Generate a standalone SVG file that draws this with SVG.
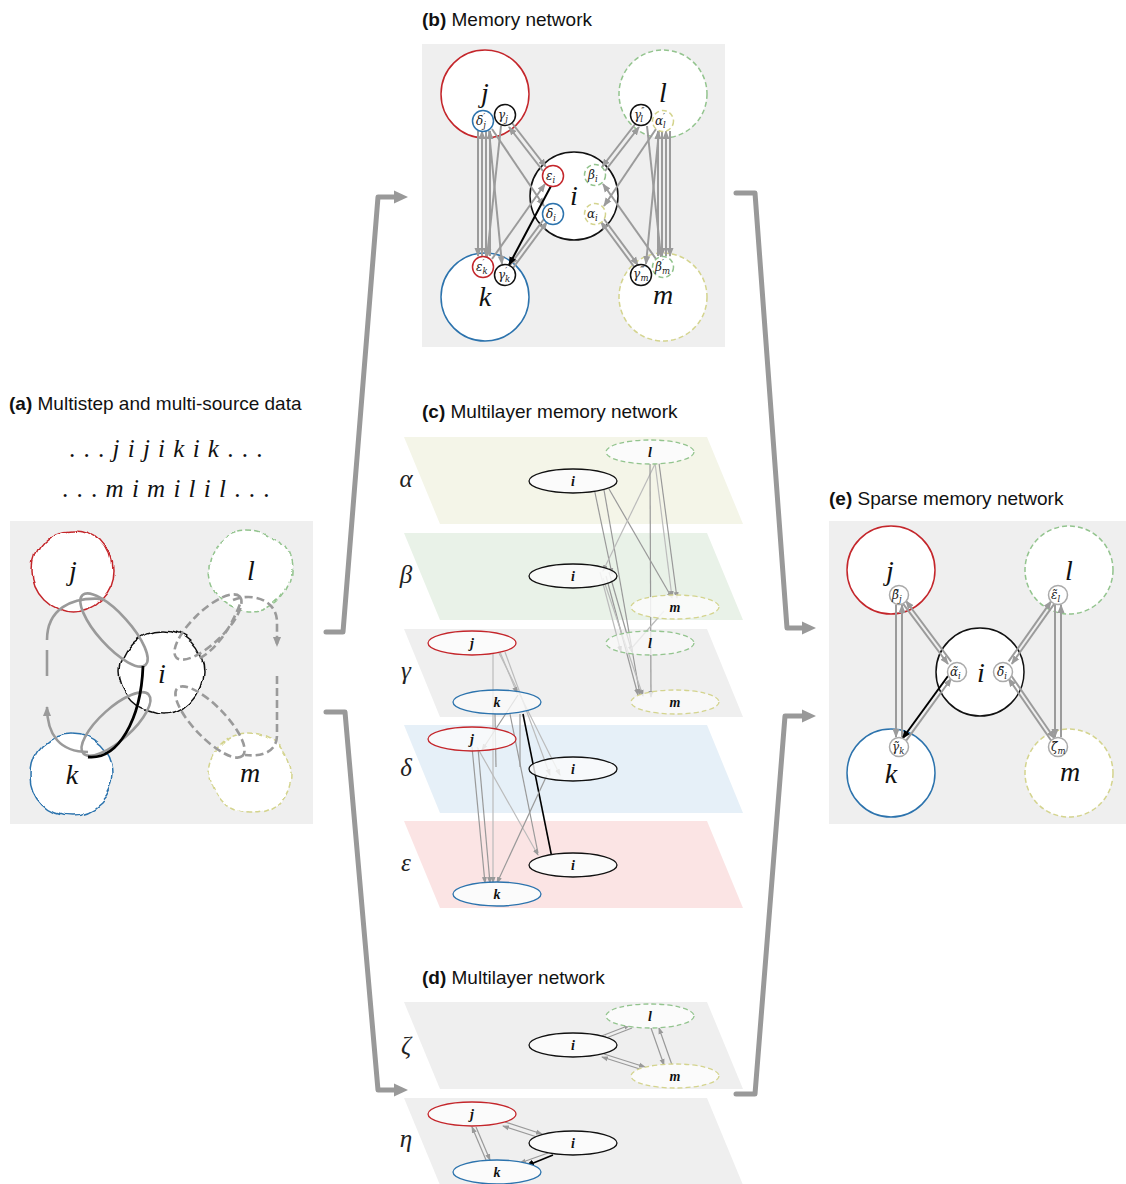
<svg xmlns="http://www.w3.org/2000/svg" width="1126" height="1184" viewBox="0 0 1126 1184">
<style>
.title{font-family:"Liberation Sans",Arial,sans-serif;font-size:19px;fill:#111}
.title .b{font-weight:bold}
.mi{font-family:"Liberation Serif","DejaVu Serif",serif;font-style:italic;fill:#111}
.big{font-size:28px}
.seq{font-family:"Liberation Serif",serif;font-size:25px;fill:#111;letter-spacing:0.5px;word-spacing:1px}
.lay{font-family:"Liberation Serif","DejaVu Serif",serif;font-style:italic;font-size:25px;fill:#222}
.el{font-family:"Liberation Serif",serif;font-style:italic;font-weight:bold;font-size:14px;fill:#111}
.sm{font-family:"DejaVu Serif","Liberation Serif",serif;font-style:italic;font-size:12px;fill:#222}
.sub{font-size:8.5px}
.box{fill:#efefef}
.red{stroke:#c4262b}
.blue{stroke:#2c73ad}
.grn{stroke:#93c48e;stroke-dasharray:5 3}
.yel{stroke:#d4d48e;stroke-dasharray:5 3}
.blk{stroke:#111}
.node{fill:#fff;stroke-width:1.5}
.snode{fill:#fff;stroke-width:1.5}
.enode{fill:#fbfbfb;stroke-width:1.3}
.ge{stroke:#9b9b9b;stroke-width:2;fill:none}
.ke{stroke:#000;stroke-width:2;fill:none}
.te{stroke:#999;stroke-width:1.2;fill:none}
.tl{stroke:#bbb;stroke-width:1.2;fill:none}
.bigarr{stroke:#999;stroke-width:5;fill:none;stroke-linejoin:round;stroke-linecap:round}
.loop{stroke:#9a9a9a;stroke-width:2.6;fill:none}
.dloop{stroke:#9a9a9a;stroke-width:2.6;fill:none;stroke-dasharray:8 4}
</style>
<defs>
<filter id="wob" x="-25%" y="-25%" width="150%" height="150%">
<feTurbulence type="fractalNoise" baseFrequency="0.035" numOctaves="1" seed="4" result="n"/>
<feDisplacementMap in="SourceGraphic" in2="n" scale="13" xChannelSelector="R" yChannelSelector="G"/>
</filter>
<marker id="ag" markerUnits="userSpaceOnUse" markerWidth="9" markerHeight="8" refX="8" refY="4" orient="auto"><path d="M0,0.5 L9,4 L0,7.5 z" fill="#9b9b9b"/></marker>
<marker id="ak" markerUnits="userSpaceOnUse" markerWidth="9" markerHeight="8" refX="8" refY="4" orient="auto"><path d="M0,0.5 L9,4 L0,7.5 z" fill="#000"/></marker>
<marker id="at" markerUnits="userSpaceOnUse" markerWidth="7" markerHeight="6" refX="6" refY="3" orient="auto"><path d="M0,0.5 L7,3 L0,5.5 z" fill="#999"/></marker>
<marker id="ab" markerUnits="userSpaceOnUse" markerWidth="16" markerHeight="16" refX="4" refY="8" orient="auto"><path d="M0,1.5 L14,8 L0,14.5 z" fill="#999"/></marker>
<marker id="ad" markerUnits="userSpaceOnUse" markerWidth="12" markerHeight="10" refX="9" refY="5" orient="auto"><path d="M0,1 L10,5 L0,9 z" fill="#9a9a9a"/></marker>
</defs>
<rect width="1126" height="1184" fill="#fff"/>

<!-- titles -->
<text class="title" x="9" y="410"><tspan class="b">(a)</tspan> Multistep and multi-source data</text>
<text class="title" x="422" y="26"><tspan class="b">(b)</tspan> Memory network</text>
<text class="title" x="422" y="418"><tspan class="b">(c)</tspan> Multilayer memory network</text>
<text class="title" x="422" y="984"><tspan class="b">(d)</tspan> Multilayer network</text>
<text class="title" x="829" y="505"><tspan class="b">(e)</tspan> Sparse memory network</text>

<!-- sequences -->
<text class="seq" x="166" y="457" text-anchor="middle">. . . <tspan font-style="italic">j i j i k i k</tspan> . . .</text>
<text class="seq" x="166" y="497" text-anchor="middle">. . . <tspan font-style="italic">m i m i l i l</tspan> . . .</text>

<!-- panel a -->
<g id="panel-a">
<rect class="box" x="10" y="521" width="303" height="303"/>
<g id="a-j"><circle class="node red" cx="73" cy="571" r="41" filter="url(#wob)"/><text class="mi big" x="73" y="580" text-anchor="middle">j</text></g>
<g id="a-l"><circle class="node grn" cx="250" cy="570" r="41" filter="url(#wob)"/><text class="mi big" x="251" y="580" text-anchor="middle">l</text></g>
<g id="a-i"><circle class="node blk" cx="162" cy="672" r="41" filter="url(#wob)"/><text class="mi big" x="162" y="683" text-anchor="middle">i</text></g>
<g id="a-k"><circle class="node blue" cx="72" cy="774" r="41" filter="url(#wob)"/><text class="mi big" x="72" y="784" text-anchor="middle">k</text></g>
<g id="a-m"><circle class="node yel" cx="251" cy="774" r="41" filter="url(#wob)"/><text class="mi big" x="250" y="782" text-anchor="middle">m</text></g>
<g id="a-loops">
<ellipse class="loop" cx="114" cy="630" rx="47" ry="16" transform="rotate(48 114 630)"/>
<ellipse class="loop" cx="116" cy="724" rx="44" ry="16" transform="rotate(-42 116 724)"/>
<path class="loop" d="M104,599 C70,596 47,610 47,640"/>
<path class="loop" d="M47,650 L47,676"/>
<path class="loop" d="M88,752 C60,752 47,735 47,707" marker-end="url(#ad)"/>
<path d="M143,666 C141,720 118,760 88,757" stroke="#000" stroke-width="2.8" fill="none"/>
<ellipse class="dloop" cx="208" cy="627" rx="44" ry="16" transform="rotate(-44 208 627)"/>
<ellipse class="dloop" cx="210" cy="722" rx="47" ry="16" transform="rotate(46 210 722)"/>
<path class="dloop" d="M233,600 C252,592 277,600 277,622 L277,646" marker-end="url(#ad)"/>
<path class="dloop" d="M277,676 L277,735 C277,752 262,757 245,755"/>
<path class="dloop" d="M200,658 C215,650 230,630 240,604"/>
</g>
</g>

<!-- panel b -->
<g id="panel-b">
<rect class="box" x="422" y="44" width="303" height="303"/>
<g id="b-j"><circle class="node red" cx="485" cy="94" r="44"/><text class="mi big" x="485" y="102" text-anchor="middle">j</text></g>
<g id="b-l"><circle class="node grn" cx="663" cy="94" r="44"/><text class="mi big" x="663" y="102" text-anchor="middle">l</text></g>
<g id="b-i"><circle class="node blk" cx="574" cy="196" r="44"/><text class="mi big" x="574" y="205" text-anchor="middle">i</text></g>
<g id="b-k"><circle class="node blue" cx="485" cy="297" r="44"/><text class="mi big" x="485" y="306" text-anchor="middle">k</text></g>
<g id="b-m"><circle class="node yel" cx="663" cy="297" r="44"/><text class="mi big" x="663" y="304" text-anchor="middle">m</text></g>
<g id="b-edges">
<line class="ge" x1="478" y1="131" x2="478" y2="256" marker-end="url(#ag)"/>
<line class="ge" x1="482" y1="256" x2="482" y2="131" marker-end="url(#ag)"/>
<line class="ge" x1="486" y1="131" x2="486" y2="256" marker-end="url(#ag)"/>
<line class="ge" x1="490" y1="256" x2="490" y2="131" marker-end="url(#ag)"/>
<line class="ge" x1="501" y1="126" x2="487" y2="257" marker-end="url(#ag)"/>
<line class="ge" x1="489" y1="131" x2="502" y2="264" marker-end="url(#ag)"/>
<line class="ge" x1="512" y1="123" x2="546" y2="167" marker-end="url(#ag)"/>
<line class="ge" x1="543" y1="171" x2="509" y2="127" marker-end="url(#ag)"/>
<line class="ge" x1="492" y1="129" x2="544" y2="206" marker-end="url(#ag)"/>
<line class="ge" x1="513" y1="268" x2="547" y2="222" marker-end="url(#ag)"/>
<line class="ge" x1="544" y1="219" x2="510" y2="265" marker-end="url(#ag)"/>
<line class="ge" x1="492" y1="259" x2="545" y2="184" marker-end="url(#ag)"/>
<g transform="matrix(-1 0 0 1 1148 0)">
<line class="ge" x1="478" y1="131" x2="478" y2="256" marker-end="url(#ag)"/>
<line class="ge" x1="482" y1="256" x2="482" y2="131" marker-end="url(#ag)"/>
<line class="ge" x1="486" y1="131" x2="486" y2="256" marker-end="url(#ag)"/>
<line class="ge" x1="490" y1="256" x2="490" y2="131" marker-end="url(#ag)"/>
<line class="ge" x1="501" y1="126" x2="487" y2="257" marker-end="url(#ag)"/>
<line class="ge" x1="489" y1="131" x2="502" y2="264" marker-end="url(#ag)"/>
<line class="ge" x1="512" y1="123" x2="546" y2="167" marker-end="url(#ag)"/>
<line class="ge" x1="543" y1="171" x2="509" y2="127" marker-end="url(#ag)"/>
<line class="ge" x1="492" y1="129" x2="544" y2="206" marker-end="url(#ag)"/>
<line class="ge" x1="513" y1="268" x2="547" y2="222" marker-end="url(#ag)"/>
<line class="ge" x1="544" y1="219" x2="510" y2="265" marker-end="url(#ag)"/>
<line class="ge" x1="492" y1="259" x2="545" y2="184" marker-end="url(#ag)"/>
</g>
<line class="ke" x1="551" y1="186" x2="509" y2="265" marker-end="url(#ak)"/>
</g>
<g id="b-sub">
<g><circle class="snode blue" cx="483" cy="121" r="10.5"/><text class="sm" x="476" y="125">δ<tspan class="sub" dy="-5">′</tspan><tspan class="sub" dx="-2" dy="8">j</tspan></text></g>
<g><circle class="snode blk" cx="505" cy="115" r="10.5"/><text class="sm" x="498" y="119">γ<tspan class="sub" dy="3">j</tspan></text></g>
<g><circle class="snode red" cx="553" cy="176" r="10.5"/><text class="sm" x="546" y="180">ε<tspan class="sub" dy="3">i</tspan></text></g>
<g><circle class="snode blue" cx="553" cy="214" r="10.5"/><text class="sm" x="546" y="218">δ<tspan class="sub" dy="3">i</tspan></text></g>
<g><circle class="snode grn" cx="595" cy="175" r="10.5"/><text class="sm" x="588" y="179">β<tspan class="sub" dy="3">i</tspan></text></g>
<g><circle class="snode yel" cx="595" cy="214" r="10.5"/><text class="sm" x="587" y="218">α<tspan class="sub" dy="3">i</tspan></text></g>
<g><circle class="snode blk" cx="641" cy="115" r="10.5"/><text class="sm" x="634" y="119">γ<tspan class="sub" dy="-5">″</tspan><tspan class="sub" dx="-4" dy="8">l</tspan></text></g>
<g><circle class="snode yel" cx="663" cy="121" r="10.5"/><text class="sm" x="655" y="125">α<tspan class="sub" dy="-5">′</tspan><tspan class="sub" dx="-2" dy="8">l</tspan></text></g>
<g><circle class="snode red" cx="483" cy="267" r="10.5"/><text class="sm" x="476" y="271">ε<tspan class="sub" dy="-5">′</tspan><tspan class="sub" dx="-2" dy="8">k</tspan></text></g>
<g><circle class="snode blk" cx="505" cy="275" r="10.5"/><text class="sm" x="498" y="279">γ<tspan class="sub" dy="-5">′</tspan><tspan class="sub" dx="-2" dy="8">k</tspan></text></g>
<g><circle class="snode blk" cx="641" cy="275" r="10.5"/><text class="sm" x="633" y="278">γ<tspan class="sub" dy="-5">‴</tspan><tspan class="sub" dx="-4" dy="8">m</tspan></text></g>
<g><circle class="snode grn" cx="663" cy="267" r="10.5"/><text class="sm" x="655" y="271">β<tspan class="sub" dy="-5">′</tspan><tspan class="sub" dx="-2" dy="8">m</tspan></text></g>
</g>
</g>

<!-- panel c -->
<g id="panel-c">
<polygon points="404,437 707,437 743,524 440,524" fill="#f4f5e8"/>
<polygon points="404,533 707,533 743,620 440,620" fill="#e9f2e8"/>
<polygon points="404,629 707,629 743,717 440,717" fill="#efefef"/>
<polygon points="404,725 707,725 743,813 440,813" fill="#e6f0f8"/>
<polygon points="404,821 707,821 743,908 440,908" fill="#fbe4e4"/>
<text class="lay" x="406" y="487" text-anchor="middle">α</text>
<text class="lay" x="406" y="583" text-anchor="middle">β</text>
<text class="lay" x="406" y="679" text-anchor="middle">γ</text>
<text class="lay" x="406" y="776" text-anchor="middle">δ</text>
<text class="lay" x="406" y="871" text-anchor="middle">ε</text>
<g id="c-edges">
<line class="te" x1="594" y1="488" x2="612" y2="574" marker-end="url(#at)"/>
<line class="te" x1="604" y1="490" x2="640" y2="695" marker-end="url(#at)"/>
<line class="te" x1="609" y1="489" x2="672" y2="598" marker-end="url(#at)"/>
<line class="tl" x1="656" y1="462" x2="603" y2="571" marker-end="url(#at)"/>
<line class="te" x1="650" y1="463" x2="651" y2="697" marker-end="url(#at)"/>
<line class="te" x1="659" y1="463" x2="677" y2="598" marker-end="url(#at)"/>
<line class="tl" x1="655" y1="463" x2="672" y2="597" marker-end="url(#at)"/>
<line class="tl" x1="600" y1="572" x2="621" y2="652" marker-end="url(#at)"/>
<line class="te" x1="606" y1="576" x2="638" y2="695" marker-end="url(#at)"/>
<line class="tl" x1="603" y1="578" x2="643" y2="696" marker-end="url(#at)"/>
<line class="te" x1="609" y1="572" x2="632" y2="652" marker-end="url(#at)"/>
<line class="tl" x1="664" y1="611" x2="630" y2="650"/>
<line class="tl" x1="493" y1="649" x2="493" y2="883" marker-end="url(#at)"/>
<line class="tl" x1="497" y1="649" x2="560" y2="775" marker-end="url(#at)"/>
<line class="tl" x1="500" y1="652" x2="517" y2="693" marker-end="url(#at)"/>
<line class="tl" x1="505" y1="652" x2="550" y2="775" marker-end="url(#at)"/>
<line class="te" x1="518" y1="695" x2="482" y2="750" marker-end="url(#at)"/>
<line class="te" x1="510" y1="714" x2="538" y2="853"/>
<line class="te" x1="495" y1="714" x2="496" y2="767"/>
<line class="te" x1="520" y1="714" x2="520" y2="767"/>
<line x1="523" y1="714" x2="552" y2="858" stroke="#000" stroke-width="1.6"/>
<line class="te" x1="472" y1="747" x2="485" y2="883" marker-end="url(#at)"/>
<line class="te" x1="478" y1="748" x2="490" y2="883" marker-end="url(#at)"/>
<line class="tl" x1="477" y1="747" x2="538" y2="855" marker-end="url(#at)"/>
<line class="te" x1="547" y1="775" x2="497" y2="883" marker-end="url(#at)"/>
</g>
<g id="c-nodes">
<g><ellipse class="enode blk" cx="573" cy="481" rx="44" ry="12"/><text class="el" x="573" y="486" text-anchor="middle">i</text></g>
<g><ellipse class="enode grn" cx="650" cy="452" rx="44" ry="12"/><text class="el" x="650" y="457" text-anchor="middle">l</text></g>
<g><ellipse class="enode blk" cx="573" cy="576" rx="44" ry="12" fill-opacity="0.85"/><text class="el" x="573" y="581" text-anchor="middle">i</text></g>
<g><ellipse class="enode yel" cx="675" cy="607" rx="44" ry="12" fill-opacity="0.85"/><text class="el" x="675" y="612" text-anchor="middle">m</text></g>
<g><ellipse class="enode red" cx="472" cy="643" rx="44" ry="12"/><text class="el" x="472" y="648" text-anchor="middle">j</text></g>
<g><ellipse class="enode grn" cx="650" cy="643" rx="44" ry="12" fill-opacity="0.7"/><text class="el" x="650" y="648" text-anchor="middle">l</text></g>
<g><ellipse class="enode blue" cx="497" cy="702" rx="44" ry="12" fill-opacity="0.75"/><text class="el" x="497" y="707" text-anchor="middle">k</text></g>
<g><ellipse class="enode yel" cx="675" cy="702" rx="44" ry="12" fill-opacity="0.75"/><text class="el" x="675" y="707" text-anchor="middle">m</text></g>
<g><ellipse class="enode red" cx="472" cy="739" rx="44" ry="12" fill-opacity="0.8"/><text class="el" x="472" y="744" text-anchor="middle">j</text></g>
<g><ellipse class="enode blk" cx="573" cy="769" rx="44" ry="12" fill-opacity="0.8"/><text class="el" x="573" y="774" text-anchor="middle">i</text></g>
<g><ellipse class="enode blk" cx="573" cy="865" rx="44" ry="12"/><text class="el" x="573" y="870" text-anchor="middle">i</text></g>
<g><ellipse class="enode blue" cx="497" cy="894" rx="44" ry="12"/><text class="el" x="497" y="899" text-anchor="middle">k</text></g>
</g>
</g>

<!-- panel d -->
<g id="panel-d">
<polygon points="404,1002 707,1002 743,1089 440,1089" fill="#efefef"/>
<polygon points="404,1098 707,1098 743,1185 440,1185" fill="#efefef"/>
<text class="lay" x="406" y="1054" text-anchor="middle">ζ</text>
<text class="lay" x="406" y="1147" text-anchor="middle">η</text>
<g id="d-edges">
<line class="te" x1="599" y1="1037" x2="630" y2="1025" marker-end="url(#at)"/>
<line class="te" x1="632" y1="1028" x2="601" y2="1040" marker-end="url(#at)"/>
<line class="te" x1="604" y1="1054" x2="645" y2="1067" marker-end="url(#at)"/>
<line class="te" x1="643" y1="1070" x2="602" y2="1057" marker-end="url(#at)"/>
<line class="te" x1="651" y1="1028" x2="664" y2="1065" marker-end="url(#at)"/>
<line class="te" x1="672" y1="1065" x2="659" y2="1028" marker-end="url(#at)"/>
<line class="te" x1="505" y1="1122" x2="542" y2="1134" marker-end="url(#at)"/>
<line class="te" x1="540" y1="1138" x2="503" y2="1126" marker-end="url(#at)"/>
<line class="te" x1="476" y1="1127" x2="490" y2="1160" marker-end="url(#at)"/>
<line class="te" x1="486" y1="1160" x2="472" y2="1127" marker-end="url(#at)"/>
<line class="te" x1="548" y1="1153" x2="520" y2="1163" marker-end="url(#at)"/>
<line x1="553" y1="1155" x2="526" y2="1166" stroke="#000" stroke-width="1.6" marker-end="url(#ak)"/>
</g>
<g id="d-nodes">
<g><ellipse class="enode grn" cx="650" cy="1016" rx="44" ry="12"/><text class="el" x="650" y="1021" text-anchor="middle">l</text></g>
<g><ellipse class="enode blk" cx="573" cy="1045" rx="44" ry="12"/><text class="el" x="573" y="1050" text-anchor="middle">i</text></g>
<g><ellipse class="enode yel" cx="675" cy="1076" rx="44" ry="12"/><text class="el" x="675" y="1081" text-anchor="middle">m</text></g>
<g><ellipse class="enode red" cx="472" cy="1114" rx="44" ry="12"/><text class="el" x="472" y="1119" text-anchor="middle">j</text></g>
<g><ellipse class="enode blk" cx="573" cy="1143" rx="44" ry="12"/><text class="el" x="573" y="1148" text-anchor="middle">i</text></g>
<g><ellipse class="enode blue" cx="497" cy="1172" rx="44" ry="12"/><text class="el" x="497" y="1177" text-anchor="middle">k</text></g>
</g>
</g>

<!-- panel e -->
<g id="panel-e">
<rect class="box" x="829" y="521" width="297" height="303"/>
<g id="e-j"><circle class="node red" cx="891" cy="570" r="44"/><text class="mi big" x="890" y="580" text-anchor="middle">j</text></g>
<g id="e-l"><circle class="node grn" cx="1069" cy="570" r="44"/><text class="mi big" x="1069" y="580" text-anchor="middle">l</text></g>
<g id="e-i"><circle class="node blk" cx="980" cy="672" r="44"/><text class="mi big" x="981" y="682" text-anchor="middle">i</text></g>
<g id="e-k"><circle class="node blue" cx="891" cy="773" r="44"/><text class="mi big" x="891" y="783" text-anchor="middle">k</text></g>
<g id="e-m"><circle class="node yel" cx="1069" cy="773" r="44"/><text class="mi big" x="1070" y="781" text-anchor="middle">m</text></g>
<g id="e-edges">
<line class="ge" x1="896" y1="605" x2="896" y2="737" marker-end="url(#ag)"/>
<line class="ge" x1="902" y1="737" x2="902" y2="605" marker-end="url(#ag)"/>
<line class="ge" x1="902.8" y1="603.4" x2="948" y2="664" marker-end="url(#ag)"/>
<line class="ge" x1="951.2" y1="661.6" x2="906" y2="601" marker-end="url(#ag)"/>
<line class="ge" x1="906" y1="740.9" x2="951.3" y2="678.5" marker-end="url(#ag)"/>
<line class="ke" x1="948" y1="676" x2="902.5" y2="738.5" marker-end="url(#ak)"/>
<line class="ge" x1="1054.4" y1="603.6" x2="1011.8" y2="663.8" marker-end="url(#ag)"/>
<line class="ge" x1="1008.6" y1="661.4" x2="1051.2" y2="601.2" marker-end="url(#ag)"/>
<line class="ge" x1="1011.7" y1="676.3" x2="1054.5" y2="738.5" marker-end="url(#ag)"/>
<line class="ge" x1="1051.3" y1="740.7" x2="1008.5" y2="678.5" marker-end="url(#ag)"/>
<line class="ge" x1="1055" y1="605" x2="1055" y2="737" marker-end="url(#ag)"/>
<line class="ge" x1="1061" y1="737" x2="1061" y2="605" marker-end="url(#ag)"/>
</g>
<g id="e-sub">
<g><circle class="snode" stroke="#aaa" cx="899" cy="595" r="9.5"/><text class="sm" x="892" y="599">β̃<tspan class="sub" dy="3">j</tspan></text></g>
<g><circle class="snode" stroke="#aaa" cx="1058" cy="595" r="9.5"/><text class="sm" x="1051" y="599">ε̃<tspan class="sub" dy="3">l</tspan></text></g>
<g><circle class="snode" stroke="#aaa" cx="957" cy="672" r="9.5"/><text class="sm" x="950" y="676">α̃<tspan class="sub" dy="3">i</tspan></text></g>
<g><circle class="snode" stroke="#aaa" cx="1003" cy="672" r="9.5"/><text class="sm" x="997" y="676">δ̃<tspan class="sub" dy="3">i</tspan></text></g>
<g><circle class="snode" stroke="#aaa" cx="899" cy="747" r="9.5"/><text class="sm" x="892" y="751">γ̃<tspan class="sub" dy="3">k</tspan></text></g>
<g><circle class="snode" stroke="#aaa" cx="1058" cy="747" r="9.5"/><text class="sm" x="1051" y="751">ζ̃<tspan class="sub" dy="3">m</tspan></text></g>
</g>
</g>

<!-- big connectors -->
<g id="connectors">
<polyline class="bigarr" points="326,632 343,632 378,197 398,197" marker-end="url(#ab)"/>
<polyline class="bigarr" points="326,712 345,712 378,1090 398,1090" marker-end="url(#ab)"/>
<polyline class="bigarr" points="736,193 755,193 787,628 806,628" marker-end="url(#ab)"/>
<polyline class="bigarr" points="736,1094 755,1094 785,716 806,716" marker-end="url(#ab)"/>
</g>
</svg>
